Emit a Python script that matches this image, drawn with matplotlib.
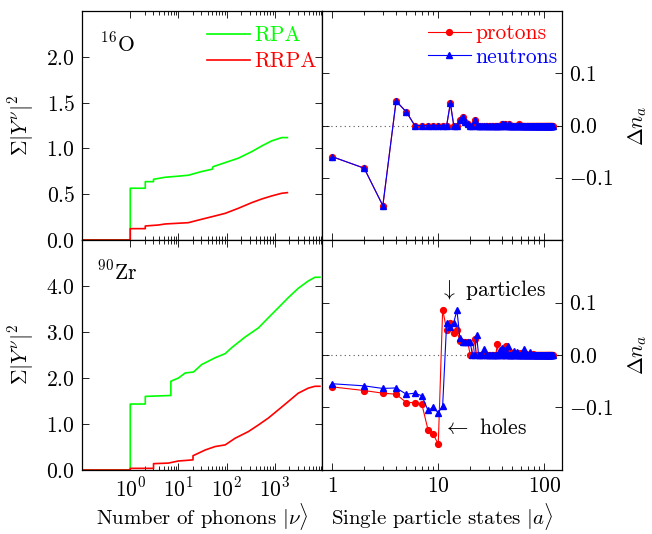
import matplotlib
matplotlib.use("Agg")
import matplotlib.pyplot as plt
from matplotlib.ticker import FixedLocator, FixedFormatter, NullFormatter

plt.rcParams['font.family'] = 'cmr10'
plt.rcParams['mathtext.fontset'] = 'cm'
plt.rcParams['axes.formatter.use_mathtext'] = True
plt.rcParams['axes.unicode_minus'] = True

# ---------------- data: cumulative |Y|^2 vs number of phonons ----------------
o16_nu_rpa = [0.1, 1, 1, 2.05, 2.05, 3.04, 3.04, 5.3, 10, 16, 30, 50, 52, 93, 174, 331, 534, 855, 1380, 1810]
o16_rpa = [0, 0, 0.565, 0.565, 0.637, 0.637, 0.663, 0.685, 0.697, 0.707, 0.747, 0.773, 0.80, 0.845, 0.893, 0.965, 1.027, 1.082, 1.118, 1.118]
o16_nu_rrpa = [0.1, 1, 1, 2.05, 2.05, 3.9, 5.3, 16, 30, 50, 93, 174, 331, 534, 855, 1380, 1810]
o16_rrpa = [0, 0, 0.124, 0.124, 0.153, 0.164, 0.175, 0.189, 0.226, 0.255, 0.291, 0.346, 0.408, 0.448, 0.481, 0.51, 0.517]

zr_nu_rpa = [0.1, 1, 1, 2.05, 2.05, 6.95, 6.95, 10, 13.8, 20.5, 30, 57.5, 93, 127, 240, 455, 730, 1180, 1900, 3040, 4900, 6750, 8550]
zr_rpa = [0, 0, 1.434, 1.434, 1.60, 1.62, 1.93, 2.0, 2.11, 2.13, 2.29, 2.44, 2.53, 2.66, 2.89, 3.09, 3.31, 3.53, 3.75, 3.95, 4.11, 4.19, 4.19]
zr_nu_rrpa = [0.1, 1, 1, 3.04, 3.04, 6.2, 10, 20, 20, 36, 57.5, 93, 149, 282, 455, 730, 1180, 1900, 3040, 4900, 6750, 8550]
zr_rrpa = [0, 0, 0.036, 0.036, 0.138, 0.15, 0.196, 0.22, 0.31, 0.436, 0.51, 0.546, 0.69, 0.836, 0.98, 1.13, 1.31, 1.49, 1.67, 1.78, 1.82, 1.82]

# ---------------- data: occupation changes vs single particle state ----------------
states = list(range(1, 121))
o16_protons = [
    -0.060, -0.082, -0.154, 0.047, 0.026, 0.000, 0.000, 0.000, 0.000, 0.000,
    0.000, 0.000, 0.043, 0.000, 0.000, 0.010, 0.016, 0.006, 0.002, 0.000,
    0.000, 0.010, 0.000, 0.000, 0.000, 0.000, 0.000, 0.000, 0.000, 0.000,
    0.000, 0.000, 0.000, 0.000, 0.000, 0.000, 0.000, 0.000, 0.000, 0.003,
    0.003, 0.000, 0.003, 0.000, 0.000, 0.002, 0.000, 0.000, 0.000, 0.000,
    0.000, 0.000, 0.000, 0.000, 0.000, 0.000, 0.000, 0.002, 0.000, 0.000,
    0.000, 0.000, 0.000, 0.000, 0.000, 0.000, 0.000, 0.000, 0.000, 0.000,
    0.000, 0.000, 0.000, 0.000, 0.000, 0.000, 0.000, 0.000, 0.000, 0.000,
    0.000, 0.000, 0.000, 0.000, 0.000, 0.000, 0.000, 0.000, 0.000, 0.000,
    0.000, 0.000, 0.000, 0.000, 0.000, 0.000, 0.000, 0.000, 0.000, 0.000,
    0.000, 0.000, 0.000, 0.000, 0.000, 0.000, 0.000, 0.000, 0.000, 0.000,
    0.000, 0.000, 0.000, 0.000, 0.000, 0.000, 0.000, 0.000, 0.000, 0.000,
]
o16_neutrons = [
    -0.060, -0.082, -0.154, 0.047, 0.026, 0.000, 0.000, 0.000, 0.000, 0.000,
    0.000, 0.000, 0.043, 0.000, 0.000, 0.010, 0.016, 0.006, 0.002, 0.000,
    0.000, 0.010, 0.000, 0.000, 0.000, 0.000, 0.000, 0.000, 0.000, 0.000,
    0.000, 0.000, 0.000, 0.000, 0.000, 0.000, 0.000, 0.000, 0.000, 0.002,
    0.002, 0.000, 0.002, 0.000, 0.000, 0.002, 0.000, 0.000, 0.000, 0.000,
    0.000, 0.000, 0.000, 0.000, 0.000, 0.000, 0.000, 0.001, 0.000, 0.000,
    0.000, 0.000, 0.000, 0.000, 0.000, 0.000, 0.000, 0.000, 0.000, 0.000,
    0.000, 0.000, 0.000, 0.000, 0.000, 0.000, 0.000, 0.000, 0.000, 0.000,
    0.000, 0.000, 0.000, 0.000, 0.000, 0.000, 0.000, 0.000, 0.000, 0.000,
    0.000, 0.000, 0.000, 0.000, 0.000, 0.000, 0.000, 0.000, 0.000, 0.000,
    0.000, 0.000, 0.000, 0.000, 0.000, 0.000, 0.000, 0.000, 0.000, 0.000,
    0.000, 0.000, 0.000, 0.000, 0.000, 0.000, 0.000, 0.000, 0.000, 0.000,
]
zr_protons = [
    -0.061, -0.068, -0.073, -0.075, -0.091, -0.091, -0.094, -0.143, -0.152, -0.171,
    0.087, 0.048, 0.062, 0.042, 0.047, 0.026, 0.025, 0.025, 0.025, 0.000,
    0.000, 0.030, 0.000, 0.000, 0.000, 0.000, 0.000, 0.000, 0.000, 0.000,
    0.000, 0.000, 0.000, 0.000, 0.000, 0.022, 0.000, 0.000, 0.000, 0.000,
    0.000, 0.000, 0.000, 0.017, 0.000, 0.000, 0.006, 0.000, 0.000, 0.000,
    0.000, 0.000, 0.000, 0.000, 0.000, 0.004, 0.000, 0.000, 0.000, 0.003,
    0.000, 0.000, 0.000, 0.000, 0.000, 0.000, 0.002, 0.000, 0.000, 0.000,
    0.000, 0.000, 0.000, 0.000, 0.000, 0.000, 0.000, 0.002, 0.000, 0.000,
    0.000, 0.000, 0.000, 0.000, 0.000, 0.000, 0.000, 0.000, 0.000, 0.000,
    0.000, 0.000, 0.000, 0.000, 0.000, 0.000, 0.000, 0.000, 0.000, 0.000,
    0.000, 0.000, 0.000, 0.000, 0.000, 0.000, 0.000, 0.000, 0.000, 0.000,
    0.000, 0.000, 0.000, 0.000, 0.000, 0.000, 0.000, 0.000, 0.000, 0.000,
]
zr_neutrons = [
    -0.055, -0.059, -0.064, -0.063, -0.075, -0.073, -0.078, -0.106, -0.100, -0.111,
    -0.097, 0.062, 0.054, 0.062, 0.086, 0.032, 0.025, 0.025, 0.025, 0.025,
    0.000, 0.000, 0.038, 0.000, 0.000, 0.000, 0.012, 0.000, 0.000, 0.000,
    0.000, 0.000, 0.000, 0.000, 0.000, 0.000, 0.000, 0.010, 0.000, 0.014,
    0.000, 0.010, 0.000, 0.000, 0.017, 0.000, 0.000, 0.000, 0.000, 0.000,
    0.000, 0.008, 0.000, 0.000, 0.006, 0.000, 0.000, 0.000, 0.000, 0.000,
    0.000, 0.000, 0.000, 0.000, 0.012, 0.000, 0.000, 0.000, 0.000, 0.000,
    0.000, 0.000, 0.006, 0.000, 0.000, 0.000, 0.000, 0.000, 0.000, 0.000,
    0.000, 0.000, 0.000, 0.000, 0.000, 0.000, 0.000, 0.000, 0.000, 0.000,
    0.000, 0.000, 0.000, 0.000, 0.000, 0.000, 0.000, 0.000, 0.000, 0.000,
    0.000, 0.000, 0.000, 0.000, 0.000, 0.000, 0.000, 0.000, 0.000, 0.000,
    0.000, 0.000, 0.000, 0.000, 0.000, 0.000, 0.000, 0.000, 0.000, 0.000,
]

left_xticks = [1, 10, 100, 1000]
left_xticklabels = [r'$10^0$', r'$10^1$', r'$10^2$', r'$10^3$']
right_xticks = [1, 10, 100]
right_xticklabels = [r'$1$', r'$10$', r'$100$']
top_left_yticks = [0.0, 0.5, 1.0, 1.5, 2.0]
bot_left_yticks = [0.0, 1.0, 2.0, 3.0, 4.0]
right_yticks = [-0.1, 0.0, 0.1]

FS = 15.5
FSX = 15
W, H = 652, 534
fig = plt.figure(figsize=(W / 100, H / 100), dpi=100)

def rect(x0, y0, x1, y1):
    return [x0 / W, 1 - y1 / H, (x1 - x0) / W, (y1 - y0) / H]

ax_tl = fig.add_axes(rect(82, 11, 322, 240))
ax_tr = fig.add_axes(rect(322, 11, 562, 240))
ax_bl = fig.add_axes(rect(82, 240, 322, 470))
ax_br = fig.add_axes(rect(322, 240, 562, 470))

GREEN = '#00ff00'
RED = '#ff0000'
BLUE = '#0000ff'

left_minor = [m * d for d in (1, 10, 100, 1000) for m in range(2, 10)]
right_minor = [m * d for d in (1, 10) for m in range(2, 10)]

def style_left(ax, yticks, ylim, bottom_labels):
    ax.set_xscale('log')
    ax.set_xlim(0.1, 9440)
    ax.set_ylim(*ylim)
    ax.xaxis.set_major_locator(FixedLocator(left_xticks))
    ax.xaxis.set_minor_locator(FixedLocator(left_minor))
    ax.xaxis.set_minor_formatter(NullFormatter())
    if bottom_labels:
        ax.xaxis.set_major_formatter(FixedFormatter(left_xticklabels))
    else:
        ax.xaxis.set_major_formatter(NullFormatter())
    ax.yaxis.set_major_locator(FixedLocator(yticks))
    ax.yaxis.set_major_formatter(FixedFormatter([r'$%.1f$' % v for v in yticks]))
    ax.tick_params(which='both', direction='in', top=True, right=True, labelsize=FS, width=0.6)
    ax.tick_params(which='major', length=5, pad=5)
    ax.tick_params(which='minor', length=3)
    ax.set_ylabel(r'$\Sigma|Y^\nu|^2$', fontsize=FS)
    ax.yaxis.set_label_coords(-0.19, 0.5)

def style_right(ax, bottom_labels):
    ax.set_xscale('log')
    ax.set_xlim(0.8, 147)
    ax.set_ylim(-0.22, 0.22)
    ax.xaxis.set_major_locator(FixedLocator(right_xticks))
    ax.xaxis.set_minor_locator(FixedLocator(right_minor))
    ax.xaxis.set_minor_formatter(NullFormatter())
    if bottom_labels:
        ax.xaxis.set_major_formatter(FixedFormatter(right_xticklabels))
    else:
        ax.xaxis.set_major_formatter(NullFormatter())
    ax.yaxis.set_major_locator(FixedLocator(right_yticks))
    ax.yaxis.set_major_formatter(FixedFormatter([r'$%.1f$' % v if v != 0 else r'$0.0$' for v in right_yticks]))
    ax.tick_params(which='both', direction='in', top=True, left=True, right=True,
                   labelleft=False, labelright=True, labelsize=FS, width=0.6)
    ax.tick_params(which='major', length=5, pad=5)
    ax.tick_params(which='minor', length=3)
    ax.yaxis.set_label_position('right')
    ax.set_ylabel(r'$\Delta n_a$', fontsize=FS)
    ax.yaxis.set_label_coords(1.27, 0.5)
    ax.axhline(0, color='#555555', linestyle=(0, (1, 3)), linewidth=0.8, zorder=1)

for s in (ax_tl, ax_tr, ax_bl, ax_br):
    for sp in s.spines.values():
        sp.set_linewidth(0.9)

# --- left panels ---
ax_tl.plot(o16_nu_rpa, o16_rpa, color=GREEN, lw=1.2, label='RPA')
ax_tl.plot(o16_nu_rrpa, o16_rrpa, color=RED, lw=1.2, label='RRPA')
style_left(ax_tl, top_left_yticks, (0, 2.5), False)
ax_tl.text(0.075, 0.856, r'$^{16}$O', transform=ax_tl.transAxes, fontsize=FS, va='center', ha='left')
ax_tl.legend(loc='upper left', bbox_to_anchor=(0.52, 0.935), frameon=False, fontsize=FS,
             labelcolor='linecolor', handlelength=2.0, handletextpad=0.2, labelspacing=0.3,
             borderpad=0, borderaxespad=0)

ax_bl.plot(zr_nu_rpa, zr_rpa, color=GREEN, lw=1.2)
ax_bl.plot(zr_nu_rrpa, zr_rrpa, color=RED, lw=1.2)
style_left(ax_bl, bot_left_yticks, (0, 5.0), True)
ax_bl.text(0.0625, 0.861, r'$^{90}$Zr', transform=ax_bl.transAxes, fontsize=FS, va='center', ha='left')
ax_bl.set_xlabel(r'Number of phonons $|\nu\rangle$', fontsize=FSX)
ax_bl.xaxis.set_label_coords(0.5, -0.135)

# --- right panels ---
ax_tr.plot(states, o16_protons, color=RED, lw=0.8, marker='o', ms=4.2, mec=RED, label='protons', zorder=3)
ax_tr.plot(states, o16_neutrons, color=BLUE, lw=0.8, marker='^', ms=3.8, mec=BLUE, label='neutrons', zorder=4)
style_right(ax_tr, False)
ax_tr.legend(loc='upper left', bbox_to_anchor=(0.44, 0.945), frameon=False, fontsize=FS,
             labelcolor='linecolor', handlelength=2.0, handletextpad=0.2, labelspacing=0.2,
             borderpad=0, borderaxespad=0)

ax_br.plot(states, zr_protons, color=RED, lw=0.8, marker='o', ms=4.2, mec=RED, zorder=3)
ax_br.plot(states, zr_neutrons, color=BLUE, lw=0.8, marker='^', ms=3.8, mec=BLUE, zorder=4)
style_right(ax_br, True)
ax_br.set_xlabel(r'Single particle states $|a\rangle$', fontsize=FSX)
ax_br.xaxis.set_label_coords(0.5, -0.135)
ax_br.text(0.49, 0.783, r'$\downarrow$ particles', transform=ax_br.transAxes, fontsize=FS, va='center', ha='left')
ax_br.text(0.504, 0.183, r'$\leftarrow$ holes', transform=ax_br.transAxes, fontsize=FS, va='center', ha='left')

fig.savefig('out.png', dpi=100)
